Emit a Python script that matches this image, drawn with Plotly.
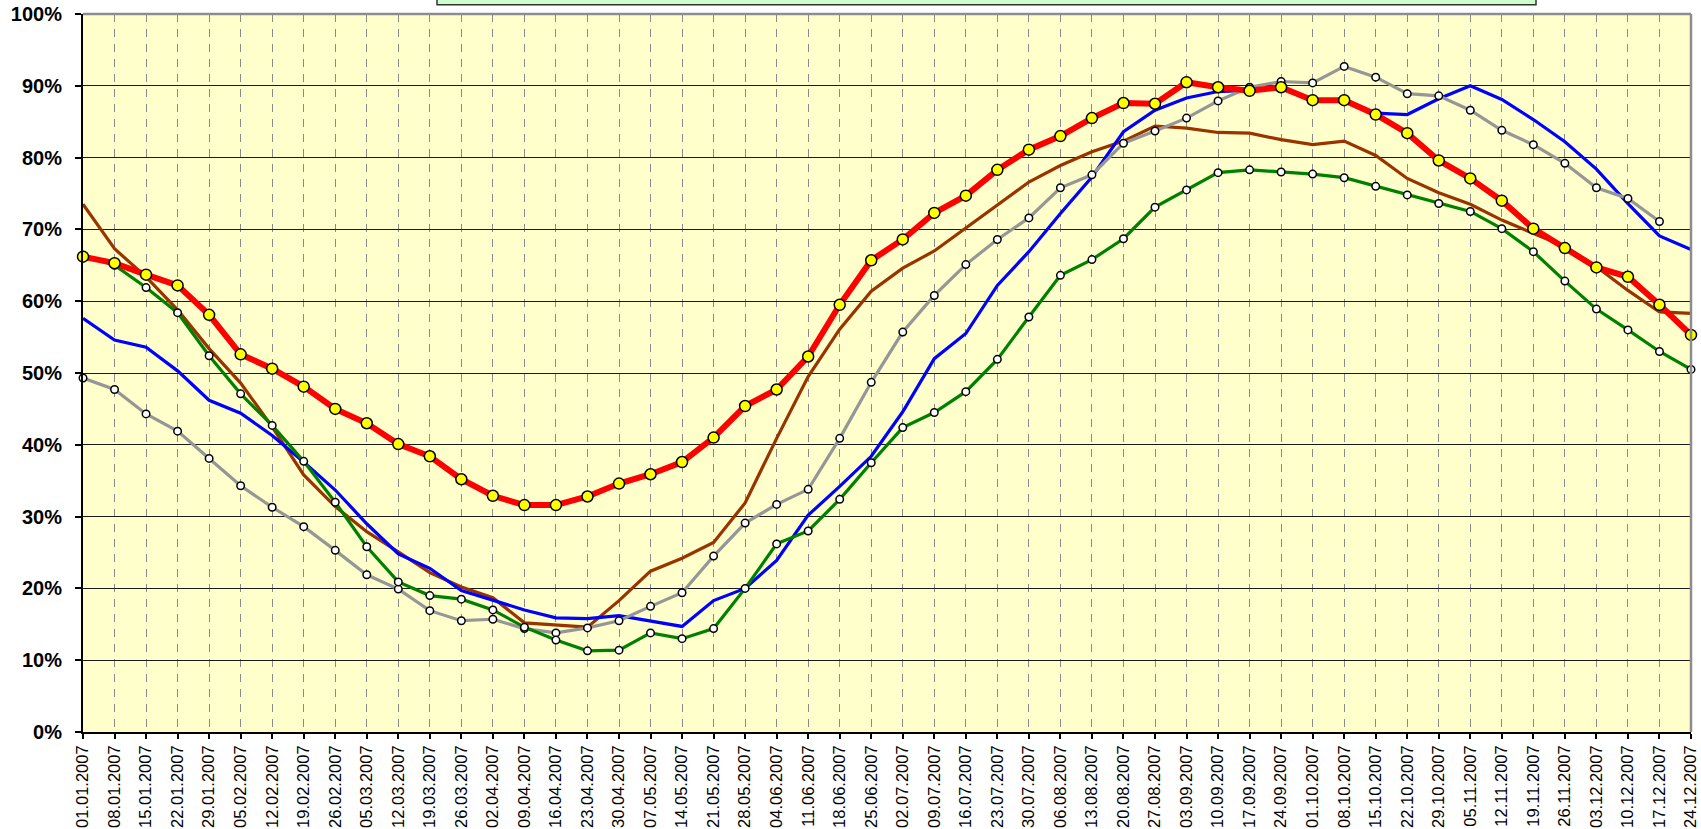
import plotly.graph_objects as go

dates = ["01.01.2007", "08.01.2007", "15.01.2007", "22.01.2007", "29.01.2007", "05.02.2007",
         "12.02.2007", "19.02.2007", "26.02.2007", "05.03.2007", "12.03.2007", "19.03.2007",
         "26.03.2007", "02.04.2007", "09.04.2007", "16.04.2007", "23.04.2007", "30.04.2007",
         "07.05.2007", "14.05.2007", "21.05.2007", "28.05.2007", "04.06.2007", "11.06.2007",
         "18.06.2007", "25.06.2007", "02.07.2007", "09.07.2007", "16.07.2007", "23.07.2007",
         "30.07.2007", "06.08.2007", "13.08.2007", "20.08.2007", "27.08.2007", "03.09.2007",
         "10.09.2007", "17.09.2007", "24.09.2007", "01.10.2007", "08.10.2007", "15.10.2007",
         "22.10.2007", "29.10.2007", "05.11.2007", "12.11.2007", "19.11.2007", "26.11.2007",
         "03.12.2007", "10.12.2007", "17.12.2007", "24.12.2007"]

red_vals = [66.2, 65.3, 63.7, 62.2, 58.1, 52.6, 50.6, 48.1, 45.0, 43.0, 40.1, 38.4, 35.2,
            32.9, 31.6, 31.6, 32.8, 34.6, 35.9, 37.6, 41.0, 45.4, 47.7, 52.3, 59.5, 65.7,
            68.6, 72.3, 74.7, 78.3, 81.1, 83.0, 85.5, 87.6, 87.5, 90.5, 89.8, 89.3, 89.8,
            88.0, 88.0, 86.0, 83.4, 79.6, 77.1, 74.0, 70.1, 67.4, 64.7, 63.4, 59.5, 55.3]

blue_vals = [57.6, 54.6, 53.6, 50.3, 46.2, 44.4, 41.3, 37.6, 33.7, 29.0, 24.8, 22.8, 19.7,
             18.3, 17.0, 15.9, 15.8, 16.2, 15.5, 14.7, 18.3, 20.0, 23.9, 30.2, 34.2, 38.4,
             44.6, 52.0, 55.5, 62.2, 66.9, 72.2, 77.3, 83.6, 86.6, 88.3, 89.2, 89.4, 89.6,
             88.0, 87.8, 86.2, 86.0, 88.2, 90.0, 88.1, 85.3, 82.2, 78.4, 73.6, 69.1, 67.2]

brown_vals = [73.5, 67.3, 63.4, 58.8, 53.4, 48.6, 42.5, 35.8, 31.4, 27.9, 25.1, 22.2, 20.2,
              18.7, 15.2, 14.9, 14.6, 18.3, 22.4, 24.2, 26.4, 31.9, 40.9, 49.5, 56.1, 61.4,
              64.6, 67.0, 70.2, 73.5, 76.6, 78.9, 80.8, 82.3, 84.4, 84.1, 83.5, 83.4, 82.5,
              81.8, 82.3, 80.3, 77.1, 75.1, 73.5, 71.3, 69.4, 67.6, 64.8, 61.5, 58.5, 58.3]

green_vals = [66.4, 65.0, 61.9, 58.4, 52.4, 47.1, 42.7, 37.7, 32.0, 25.8, 20.9, 19.0, 18.5,
              17.0, 14.6, 12.8, 11.3, 11.4, 13.8, 13.0, 14.4, 20.0, 26.2, 28.0, 32.4, 37.5,
              42.4, 44.5, 47.4, 51.9, 57.8, 63.6, 65.8, 68.7, 73.1, 75.5, 77.9, 78.3, 78.0,
              77.7, 77.2, 76.0, 74.8, 73.6, 72.5, 70.1, 66.9, 62.8, 58.9, 56.0, 53.0, 50.5]

gray_vals = [49.3, 47.7, 44.3, 41.9, 38.1, 34.3, 31.3, 28.6, 25.3, 21.9, 19.9, 16.9, 15.5,
             15.7, 14.4, 13.8, 14.5, 15.5, 17.5, 19.4, 24.5, 29.1, 31.7, 33.8, 40.9, 48.7,
             55.7, 60.8, 65.1, 68.6, 71.6, 75.8, 77.6, 82.0, 83.7, 85.5, 87.9, 89.8, 90.6,
             90.4, 92.7, 91.2, 88.9, 88.6, 86.6, 83.8, 81.8, 79.2, 75.8, 74.3, 71.1, None]

y_tick_vals = [0, 10, 20, 30, 40, 50, 60, 70, 80, 90, 100]
y_tick_text = ["0%", "10%", "20%", "30%", "40%", "50%", "60%", "70%", "80%", "90%", "100%"]

FONT = "Liberation Sans, Arial, sans-serif"

fig = go.Figure()

fig.add_trace(go.Scatter(x=dates, y=brown_vals, mode="lines",
                         line=dict(color="#993300", width=3.2), cliponaxis=False))
fig.add_trace(go.Scatter(x=dates, y=blue_vals, mode="lines",
                         line=dict(color="#0000FF", width=3.2), cliponaxis=False))
fig.add_trace(go.Scatter(x=dates, y=gray_vals, mode="lines+markers",
                         line=dict(color="#969696", width=3.2),
                         marker=dict(size=7.5, color="white", line=dict(color="black", width=1.5)),
                         cliponaxis=False))
fig.add_trace(go.Scatter(x=dates, y=green_vals, mode="lines+markers",
                         line=dict(color="#008000", width=3.2),
                         marker=dict(size=7.5, color="white", line=dict(color="black", width=1.5)),
                         cliponaxis=False))
fig.add_trace(go.Scatter(x=dates, y=red_vals, mode="lines+markers",
                         line=dict(color="#FF0000", width=6),
                         marker=dict(size=11, color="#FFFF00", line=dict(color="black", width=1.5)),
                         cliponaxis=False))

fig.update_layout(
    width=1701, height=829,
    margin=dict(l=83, r=10, t=14, b=97, autoexpand=False),
    paper_bgcolor="white",
    plot_bgcolor="#FFFFCC",
    showlegend=False,
    font=dict(family=FONT, color="black"),
    xaxis=dict(
        type="category", range=[0, 51],
        tickangle=-90, tickfont=dict(family=FONT, size=16.5, color="black"),
        ticks="outside", ticklen=5, tickcolor="black", tickwidth=1.5,
        showline=True, linecolor="black", linewidth=1.5,
        showgrid=True, gridcolor="#8a8a8a", gridwidth=1, griddash="8px,7px",
        zeroline=False, ticklabeloverflow="allow",
    ),
    yaxis=dict(
        range=[0, 100], tickmode="array", tickvals=y_tick_vals, ticktext=y_tick_text,
        tickfont=dict(family=FONT, size=20, color="black", weight="bold"),
        ticks="outside", ticklen=6, tickcolor="black", tickwidth=1.5,
        showline=True, linecolor="black", linewidth=2,
        showgrid=True, gridcolor="#1a1a1a", gridwidth=1,
        zeroline=False, ticklabelstandoff=9,
    ),
    shapes=[
        dict(type="line", xref="paper", yref="paper", x0=0, x1=1, y0=1, y1=1,
             line=dict(color="#8c8c8c", width=2.5), layer="above"),
        dict(type="line", xref="paper", yref="paper", x0=1, x1=1, y0=0, y1=1,
             line=dict(color="#8c8c8c", width=2.5), layer="above"),
        dict(type="rect", xref="paper", yref="paper",
             x0=(437 - 83) / 1608, x1=(1536 - 83) / 1608,
             y0=(732 - 4.7) / 718, y1=1.08,
             fillcolor="#CCFFCC", line=dict(color="#333333", width=1.5), layer="above"),
    ],
)

fig.write_html("out.html", config={"displayModeBar": False},
               post_script="document.body.style.margin='0';document.body.style.overflow='hidden';")
